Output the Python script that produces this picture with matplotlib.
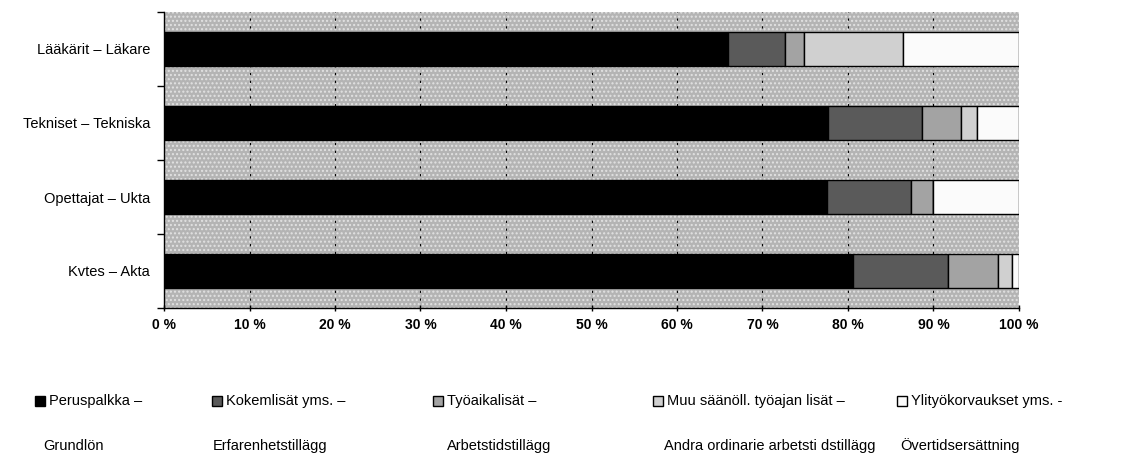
import matplotlib
matplotlib.use("Agg")
import matplotlib.pyplot as plt
from matplotlib.patches import Rectangle
from matplotlib import font_manager as fm
import numpy as np

categories = ["Lääkärit – Läkare", "Tekniset – Tekniska", "Opettajat – Ukta", "Kvtes – Akta"]
peruspalkka = [66.0, 77.7, 77.5, 80.6]
kokemuslisat = [6.6, 11.0, 9.9, 11.1]
tyoaikalisat = [2.3, 4.5, 2.6, 5.8]
muu_lisat = [11.5, 1.9, 0.0, 1.7]
ylityo = [13.6, 4.9, 10.0, 0.8]
series_fi = ["Peruspalkka –", "Kokemlisät yms. –", "Työaikalisät –", "Muu säänöll. työajan lisät –", "Ylityökorvaukset yms. -"]
series_sv = ["Grundlön", "Erfarenhetstillägg", "Arbetstidstillägg", "Andra ordinarie arbetsti dstillägg", "Övertidsersättning"]
xticks = [0, 10, 20, 30, 40, 50, 60, 70, 80, 90, 100]
xticklabels = [f"{v} %" for v in xticks]

avail = {f.name for f in fm.fontManager.ttflist}
fam = ["Liberation Sans Narrow"] if "Liberation Sans Narrow" in avail else ["Liberation Sans"]
plt.rcParams['font.family'] = fam + ["DejaVu Sans"]
plt.rcParams['font.size'] = 10.5

colors = ["#000000", "#5a5a5a", "#a3a3a3", "#d0d0d0", "#fbfbfb"]

W, H = 1147, 462
fig = plt.figure(figsize=(W/100, H/100), dpi=100)
ax = fig.add_axes([164/W, 1-308/H, (1019-164)/W, (308-12)/H])
ax.set_facecolor("#b4b4b4")
bg = Rectangle((0, 0), 1, 1, transform=ax.transAxes, facecolor="none",
               edgecolor="#e2e2e2", hatch="....", lw=0, zorder=0.5)
ax.add_patch(bg)

y = np.arange(len(categories))
data = [peruspalkka, kokemuslisat, tyoaikalisat, muu_lisat, ylityo]
left = np.zeros(len(categories))
for vals, c in zip(data, colors):
    vals = np.array(vals)
    ax.barh(y, vals, left=left, height=0.45, color=c, edgecolor="black", lw=1.0, zorder=3)
    left += vals

ax.set_xlim(0, 100)
ax.set_ylim(len(categories)-0.5, -0.5)
ax.set_xticks(xticks)
ax.set_xticklabels(xticklabels, fontweight="bold", fontsize=10)
ax.set_yticks(y)
ax.set_yticklabels(categories, fontsize=10.5)
ax.set_yticks(np.arange(-0.5, len(categories)), minor=True)
ax.tick_params(axis='y', which='major', length=0, pad=10)
ax.tick_params(axis='y', which='minor', length=5, direction='out', width=1)
ax.tick_params(axis='x', length=5, direction='inout', width=1, pad=5)
for xv in xticks[1:-1]:
    ax.axvline(xv, color="black", lw=0.8, ls=(0, (2, 5)), zorder=1)
for s in ["top", "right"]:
    ax.spines[s].set_visible(False)
ax.spines["left"].set_linewidth(1)
ax.spines["bottom"].set_linewidth(1)

# legend
mx = [35, 212, 433, 653, 897]
sx = [43, 213, 447, 664, 900]
y1, y2 = 401, 446
for i in range(5):
    fig.patches.append(Rectangle((mx[i]/W, 1-(y1+5)/H), 10/W, 10/H, transform=fig.transFigure,
                                 facecolor=colors[i], edgecolor="black", lw=1))
    fig.text((mx[i]+14)/W, 1-y1/H, series_fi[i], va="center", ha="left", fontsize=10.5)
    fig.text(sx[i]/W, 1-y2/H, series_sv[i], va="center", ha="left", fontsize=10.5)

fig.savefig("out.png", dpi=100)
